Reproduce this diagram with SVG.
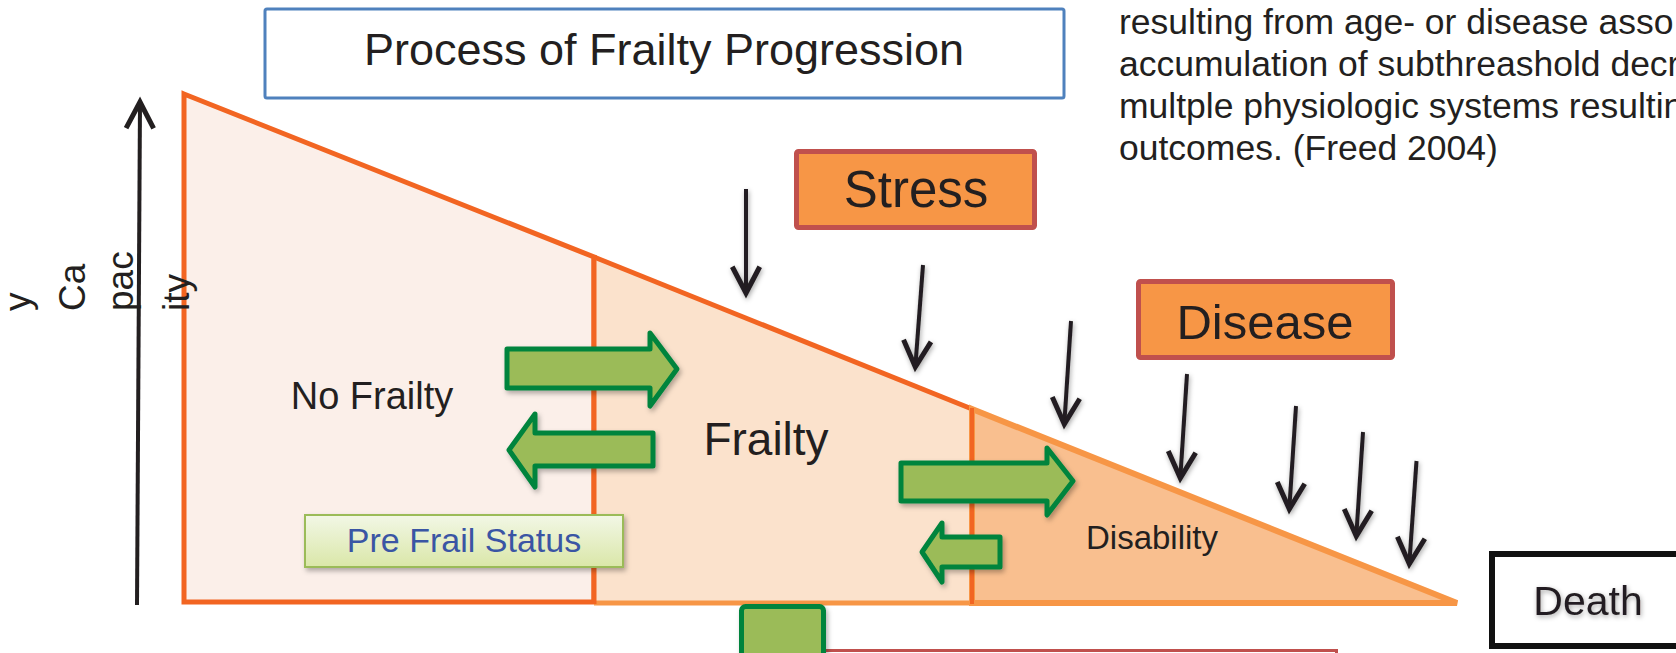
<svg xmlns="http://www.w3.org/2000/svg" width="1676" height="653" viewBox="0 0 1676 653">
<defs>
<style>
.t{font-family:"Liberation Sans",Arial,sans-serif;fill:#231f20}
.g{fill:#9bbb59;stroke:#00843d;stroke-width:5;stroke-linejoin:round}
.b{fill:none;stroke:#231f20;stroke-width:4;marker-end:url(#hd)}
.rb{fill:#f79646;stroke:#c0504d;stroke-width:5}
</style>
<marker id="hd" markerUnits="userSpaceOnUse" markerWidth="40" markerHeight="40" viewBox="-26 -16 32 32" refX="0" refY="0" orient="auto" overflow="visible">
<path d="M-21,-11 L0,0 L-21,11" fill="none" stroke="#231f20" stroke-width="4"/>
</marker>
<filter id="sh" x="-20%" y="-20%" width="140%" height="140%">
<feDropShadow dx="2" dy="3" stdDeviation="2.5" flood-color="#000" flood-opacity="0.3"/>
</filter>
<filter id="glow" x="-20%" y="-20%" width="140%" height="140%">
<feDropShadow dx="1" dy="2" stdDeviation="2.5" flood-color="#000" flood-opacity="0.35"/>
</filter>
<linearGradient id="pf" x1="0" y1="0" x2="0" y2="1">
<stop offset="0" stop-color="#f2f7e6"/>
<stop offset="1" stop-color="#dae7a8"/>
</linearGradient>
</defs>
<rect width="1676" height="653" fill="#fff"/>

<g id="title">
<rect x="265" y="9" width="799" height="89" fill="#fff" stroke="#4f81bd" stroke-width="3" rx="2"/>
<text class="t" x="664" y="65" font-size="45" text-anchor="middle">Process of Frailty Progression</text>
</g>

<g id="definition">
<text class="t" font-size="35.5" x="1119" y="34">resulting from age- or disease asso</text>
<text class="t" font-size="35.5" x="1119" y="76">accumulation of subthreashold decr</text>
<text class="t" font-size="35.5" x="1119" y="118">multple physiologic systems resultin</text>
<text class="t" font-size="35.5" x="1119" y="160">outcomes. (Freed 2004)</text>
</g>

<g id="no-frailty">
<polygon points="184,94 594,257 594,602 184,602" fill="#fbefe9" stroke="#f26522" stroke-width="5"/>
</g>
<g id="frailty-region">
<polygon points="594,257 972,409 972,603 594,603" fill="#fbe2cc"/>
<line x1="594" y1="603" x2="972" y2="603" stroke="#f79646" stroke-width="5"/>
<line x1="594" y1="257" x2="972" y2="409" stroke="#f26522" stroke-width="5"/>
</g>
<g id="disability">
<polygon points="972,409 1457,603 972,603" fill="#f9bf8f" stroke="#f79646" stroke-width="6"/>
<line x1="594" y1="255" x2="594" y2="604" stroke="#f26522" stroke-width="5"/>
<line x1="972" y1="408" x2="972" y2="604" stroke="#f26522" stroke-width="4"/>
</g>

<g id="axis-label" class="t" font-size="37">
<text transform="translate(30,311) rotate(-90)">y</text>
<text transform="translate(85,311) rotate(-90)">Ca</text>
<text transform="translate(133,311) rotate(-90)">pac</text>
<text transform="translate(189,311) rotate(-90)">ity</text>
</g>

<g id="labels">
<text class="t" x="372" y="409" font-size="38" text-anchor="middle">No Frailty</text>
<text class="t" x="766" y="455" font-size="46" text-anchor="middle">Frailty</text>
<text class="t" x="1152" y="549" font-size="33" text-anchor="middle">Disability</text>
</g>

<g id="pre-frail">
<rect x="305" y="515" width="318" height="52" fill="url(#pf)" stroke="#9bbb59" stroke-width="2" filter="url(#sh)"/>
<text x="464" y="552" font-size="34" text-anchor="middle" font-family="Liberation Sans,Arial,sans-serif" fill="#3a55a4">Pre Frail Status</text>
</g>

<g id="stress">
<rect class="rb" x="796.5" y="151.5" width="238" height="76" rx="2"/>
<text class="t" x="916" y="207" font-size="51" text-anchor="middle">Stress</text>
</g>

<g id="disease">
<rect class="rb" x="1138.5" y="281.5" width="254" height="76" rx="2"/>
<text class="t" x="1265" y="339" font-size="49" text-anchor="middle">Disease</text>
</g>

<g id="death">
<rect x="1492" y="554" width="260" height="92" fill="#fff" stroke="#111" stroke-width="6"/>
<text class="t" x="1588" y="615" font-size="41" text-anchor="middle" filter="url(#glow)">Death</text>
</g>

<g id="bottom-boxes">
<rect x="805.5" y="650.5" width="531" height="60" fill="#fff" stroke="#c0504d" stroke-width="3"/>
<rect class="g" x="741.5" y="606.5" width="82" height="90" rx="4" filter="url(#sh)"/>
</g>

<g id="connectors">
<g filter="url(#sh)">
<polygon class="g" points="507,349 650,349 650,333 677,369 650,406 650,388 507,388"/>
<polygon class="g" points="653,433 535,433 535,414 509,450 535,487 535,466 653,466"/>
<polygon class="g" points="901,463 1047,463 1047,448 1073,481 1047,515 1047,501 901,501"/>
<polygon class="g" points="1000,537 942,537 942,523 922,552 942,582 942,567 1000,567"/>
</g>
<line class="b" x1="137" y1="605" x2="140" y2="102"/>
<g filter="url(#glow)">
<line class="b" x1="746" y1="189" x2="746" y2="293"/>
<line class="b" x1="923" y1="265" x2="915.3" y2="367"/>
<line class="b" x1="1071" y1="321" x2="1064.3" y2="424"/>
<line class="b" x1="1187" y1="374" x2="1180.3" y2="478"/>
<line class="b" x1="1296" y1="406" x2="1289.3" y2="509"/>
<line class="b" x1="1363" y1="432" x2="1356.3" y2="536"/>
<line class="b" x1="1416.5" y1="461" x2="1409.3" y2="564"/>
</g>
</g>
</svg>
